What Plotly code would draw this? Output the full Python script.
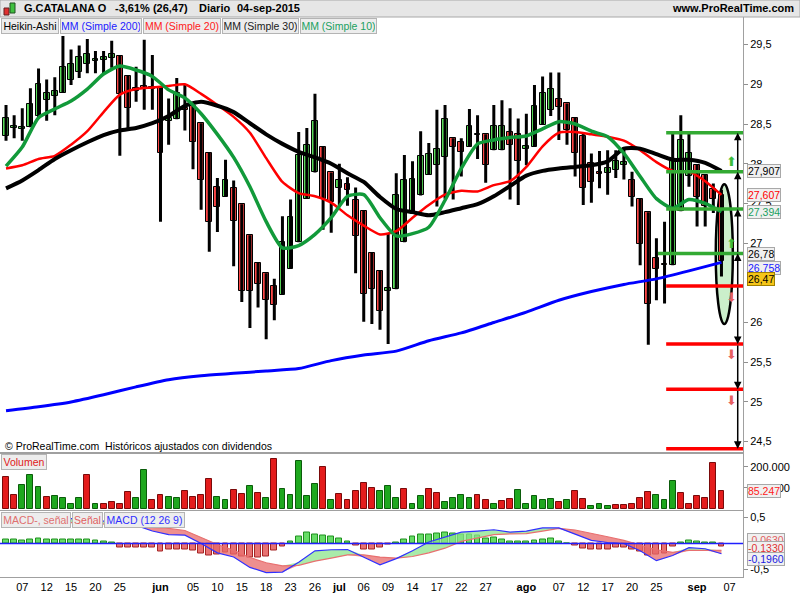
import plotly.graph_objects as go

# ---------------- data ----------------
# one bar per trading day, 5-may-2015 (index 0) .. 4-sep-2015 (index 88)
ha_open = [28.35, 28.45, 28.44, 28.46, 28.60, 28.80, 28.85, 28.89, 29.05, 29.15,
           29.26, 29.30, 29.31, 29.33, 29.36, 29.11, 28.95, 28.98, 28.97, 28.97,
           28.54, 28.56, 28.70, 28.73, 28.51, 28.14, 27.71, 27.58, 27.69, 27.49,
           27.10, 26.75, 26.62, 26.46, 26.35, 26.68, 27.01, 27.56, 27.89, 28.21,
           27.89, 27.70, 27.75, 27.54, 27.41, 26.88, 26.65, 26.40, 26.42, 27.01,
           27.39, 27.60, 27.86, 27.98, 28.08, 28.32, 28.27, 28.21, 28.36, 28.37,
           28.17, 28.17, 28.40, 28.38, 28.18, 28.21, 28.49, 28.68, 28.81, 28.76,
           28.58, 28.35, 28.01, 27.90, 27.88, 27.92, 27.98, 27.79, 27.56, 27.39,
           26.81, 26.74, 26.72, 27.40, 27.85, 27.99, 27.86, 27.68, 27.61]
ha_high = [28.74, 28.61, 28.70, 28.95, 29.20, 29.06, 29.09, 29.61, 29.44, 29.49,
           29.57, 29.42, 29.42, 29.55, 29.36, 29.11, 29.22, 29.56, 29.37, 28.97,
           28.82, 29.08, 28.99, 28.73, 28.51, 28.14, 27.82, 28.05, 27.79, 27.49,
           27.10, 26.75, 26.62, 26.55, 27.34, 27.55, 28.40, 28.45, 28.88, 28.21,
           27.89, 28.00, 27.83, 27.70, 27.41, 26.88, 26.65, 27.12, 27.88, 28.11,
           28.03, 28.41, 28.26, 28.68, 28.74, 28.32, 28.32, 28.69, 28.61, 28.37,
           28.74, 28.80, 28.70, 28.57, 28.63, 28.99, 29.10, 29.15, 29.15, 28.76,
           28.58, 28.39, 28.13, 28.16, 28.17, 28.17, 28.21, 27.90, 27.56, 27.39,
           27.06, 27.27, 28.38, 28.61, 28.40, 27.99, 27.86, 27.75, 27.67]
ha_low = [28.29, 28.32, 28.29, 28.46, 28.58, 28.54, 28.61, 28.89, 28.99, 29.08,
          29.14, 29.14, 29.14, 29.21, 28.10, 28.44, 28.78, 28.68, 28.68, 27.27,
          28.24, 28.56, 28.42, 27.93, 27.42, 26.89, 27.14, 27.58, 26.71, 26.26,
          25.93, 26.19, 25.79, 26.03, 26.35, 26.68, 27.01, 27.56, 27.89, 27.17,
          27.13, 27.47, 27.47, 26.62, 26.01, 25.98, 25.91, 25.73, 26.42, 27.01,
          27.39, 27.60, 27.86, 27.46, 27.56, 27.55, 27.84, 28.21, 28.06, 27.76,
          28.17, 28.17, 27.55, 27.48, 27.98, 28.21, 28.49, 28.60, 28.30, 28.24,
          27.84, 27.48, 27.51, 27.69, 27.61, 27.82, 27.80, 27.46, 26.72, 25.72,
          26.28, 26.24, 26.72, 27.40, 27.71, 27.21, 27.21, 27.38, 26.58]
ha_close = [28.58, 28.47, 28.46, 28.75, 29.00, 28.89, 28.92, 29.22, 29.25, 29.35,
            29.38, 29.32, 29.35, 29.38, 28.88, 28.70, 28.91, 28.95, 28.94, 28.13,
            28.58, 28.89, 28.68, 28.28, 27.79, 27.27, 27.45, 27.79, 27.28, 26.40,
            26.40, 26.48, 26.29, 26.22, 27.01, 27.33, 28.11, 28.23, 28.54, 27.56,
            27.52, 27.79, 27.67, 27.09, 26.36, 26.42, 26.14, 26.43, 27.61, 27.79,
            27.81, 28.10, 28.12, 28.18, 28.56, 28.21, 28.15, 28.48, 28.38, 27.98,
            28.48, 28.47, 28.24, 28.03, 28.22, 28.73, 28.89, 28.94, 28.71, 28.42,
            28.14, 27.69, 27.77, 27.87, 27.94, 28.03, 28.02, 27.58, 26.99, 26.23,
            26.67, 26.72, 28.03, 28.30, 28.13, 27.58, 27.47, 27.56, 26.78]
last_close = 26.47

volume = [152000, 65000, 112000, 160000, 103000, 55000, 60000, 50000, 26000, 50000,
          160000, 22000, 22000, 31000, 26000, 79000, 50000, 184000, 45000, 65000,
          55000, 50000, 84000, 55000, 65000, 141000, 55000, 41000, 89000, 69000,
          108000, 74000, 50000, 237000, 93000, 65000, 227000, 60000, 117000, 199000,
          45000, 69000, 41000, 84000, 122000, 98000, 84000, 108000, 50000, 97000,
          22000, 60000, 93000, 78000, 31000, 54000, 65000, 54000, 65000, 44000,
          26000, 36000, 49000, 92000, 22000, 60000, 41000, 49000, 31000, 41000,
          84000, 49000, 15000, 22000, 12000, 17000, 17000, 26000, 50000, 79000,
          65000, 44000, 132000, 76000, 22000, 60000, 50000, 216000, 85247]
volume_up = [0, 0, 1, 1, 1, 0, 1, 1, 1, 1,
             0, 1, 0, 0, 0, 0, 1, 1, 0, 0,
             1, 1, 0, 0, 0, 0, 1, 1, 0, 0,
             1, 0, 1, 0, 1, 1, 1, 1, 1, 0,
             1, 0, 0, 0, 0, 0, 1, 1, 1, 0,
             1, 1, 0, 0, 1, 1, 1, 1, 0, 0,
             1, 0, 0, 1, 1, 1, 1, 1, 0, 1,
             0, 0, 1, 1, 1, 0, 0, 0, 0, 0,
             1, 1, 1, 0, 0, 0, 0, 0, 0]

# moving averages, sampled every 2 bars (MA200 every 4)
line_idx = list(range(0, 89, 2))
ma200_idx = list(range(0, 89, 4))
ma200 = [24.89, 24.94, 25.00, 25.09, 25.19, 25.28, 25.33, 25.36, 25.39, 25.42,
         25.52, 25.59, 25.64, 25.77, 25.87, 26.00, 26.13, 26.28, 26.39, 26.48,
         26.55, 26.65, 26.758]
ma20 = [27.94, 27.98, 28.06, 28.10, 28.24, 28.41, 28.65, 28.87, 28.94, 28.96,
        28.98, 29.00, 28.88, 28.74, 28.59, 28.39, 28.07, 27.77, 27.63, 27.59,
        27.51, 27.35, 27.22, 27.11, 27.15, 27.32, 27.48, 27.61, 27.66, 27.65,
        27.73, 27.78, 27.96, 28.22, 28.39, 28.40, 28.37, 28.34, 28.29, 28.17,
        28.02, 27.91, 27.90, 27.78, 27.607]
ma30 = [27.69, 27.79, 27.92, 28.06, 28.17, 28.27, 28.36, 28.42, 28.45, 28.51,
        28.60, 28.73, 28.78, 28.73, 28.65, 28.51, 28.37, 28.25, 28.15, 28.08,
        28.00, 27.88, 27.77, 27.58, 27.43, 27.39, 27.35, 27.39, 27.44, 27.49,
        27.59, 27.72, 27.85, 27.91, 27.94, 27.96, 27.98, 28.03, 28.19, 28.19,
        28.12, 28.05, 28.05, 28.01, 27.907]
ma10 = [27.97, 28.21, 28.58, 28.69, 28.79, 28.94, 29.13, 29.23, 29.18, 29.10,
        28.93, 28.83, 28.63, 28.37, 28.08, 27.71, 27.27, 26.94, 26.97, 27.11,
        27.32, 27.59, 27.61, 27.32, 27.09, 27.12, 27.20, 27.54, 27.94, 28.25,
        28.30, 28.33, 28.35, 28.44, 28.53, 28.50, 28.41, 28.34, 28.13, 27.84,
        27.56, 27.44, 27.55, 27.50, 27.394]

# MACD (12 26 9)
macd = [0.50, 0.50, 0.50, 0.49, 0.48, 0.46, 0.43, 0.39, 0.35, 0.24,
        0.17, 0.16, 0.0, -0.18, -0.26, -0.46, -0.56, -0.55, -0.36, -0.14,
        -0.12, -0.115, -0.26, -0.41, -0.29, -0.14, 0.03, 0.13, 0.22, 0.24,
        0.265, 0.22, 0.24, 0.30, 0.30, 0.18, 0.06, 0.02, 0.0, -0.14,
        -0.33, -0.23, -0.08, -0.10, -0.196]
signal = [0.42, 0.42, 0.42, 0.41, 0.40, 0.39, 0.38, 0.37, 0.35, 0.31,
          0.29, 0.25, 0.12, -0.02, -0.13, -0.27, -0.37, -0.43, -0.42, -0.34,
          -0.28, -0.22, -0.22, -0.26, -0.28, -0.25, -0.18, -0.09, 0.04, 0.11,
          0.17, 0.185, 0.19, 0.24, 0.29, 0.26, 0.20, 0.13, 0.06, -0.03,
          -0.12, -0.17, -0.13, -0.13, -0.133]
macd_hist = [0.083, 0.083, 0.064, 0.083, 0.10, 0.083, 0.083, 0.083, 0.083, 0.083,
             0.07, 0.064, 0.045, 0.026, -0.077, -0.077, -0.077, -0.077, -0.077, -0.147,
             -0.115, -0.115, -0.115, -0.128, -0.19, -0.23, -0.21, -0.17, -0.22, -0.256,
             -0.27, -0.27, -0.256, -0.128, -0.064, 0.045, 0.135, 0.218, 0.173, 0.154,
             0.135, 0.09, 0.045, -0.038, -0.115, -0.115, -0.077, -0.01, 0.026, 0.083,
             0.135, 0.173, 0.173, 0.19, 0.21, 0.19, 0.18, 0.173, 0.154, 0.096,
             0.115, 0.083, 0.045, 0.032, 0.045, 0.064, 0.083, 0.10, 0.045, 0.003,
             -0.038, -0.10, -0.115, -0.115, -0.115, -0.083, -0.083, -0.115, -0.16, -0.224,
             -0.205, -0.19, -0.064, 0.02, 0.064, 0.045, 0.026, 0.026, -0.063]

# hand-drawn targets
green_levels = [28.39, 27.90, 27.43, 26.87]
red_levels = [26.46, 25.73, 25.16, 24.41]

tick_idx = [2, 5, 8, 11, 14, 19, 23, 26, 29, 32, 35, 38, 41, 44, 47, 50, 53, 56,
            59, 64, 68, 71, 74, 77, 80, 85, 89]
tick_lbl = ["07", "12", "15", "20", "25", "<b>jun</b>", "05", "10", "15", "18", "23",
            "26", "<b>jul</b>", "06", "09", "14", "17", "22", "27", "<b>ago</b>", "07",
            "12", "17", "20", "25", "<b>sep</b>", "07"]
price_ticks = [24.5, 25, 25.5, 26, 27, 27.5, 28, 28.5, 29, 29.5]

# ---------------- helpers ----------------
FONT = "Liberation Sans, Arial, sans-serif"
PLOT_W = 743.0


def px(xp):
    return xp / PLOT_W


def py(yp):
    return 1 - yp / 600.0


def fmt(v, nd):
    return f"{v:.{nd}f}".replace(".", ",")


idx = list(range(len(ha_open)))
fig = go.Figure()

# ---- price panel: wicks, bodies, moving averages ----
wx, wy = [], []
for i, h, l in zip(idx, ha_high, ha_low):
    wx += [i, i, None]
    wy += [l, h, None]
fig.add_trace(go.Scatter(x=wx, y=wy, mode="lines", line=dict(color="black", width=3),
                         hoverinfo="skip", xaxis="x", yaxis="y"))

body_base = [min(o, c) for o, c in zip(ha_open, ha_close)]
body_h = [max(abs(c - o), 0.015) for o, c in zip(ha_open, ha_close)]
body_col = ["#5ade5a" if c >= o else "#ff4747" for o, c in zip(ha_open, ha_close)]
fig.add_trace(go.Bar(x=idx, y=body_h, base=body_base, width=0.72,
                     marker=dict(color=body_col, line=dict(color="black", width=1)),
                     xaxis="x", yaxis="y"))

fig.add_trace(go.Scatter(x=ma200_idx, y=ma200, mode="lines", line=dict(color="#0000ff", width=3, shape="spline", smoothing=0.6),
                         xaxis="x", yaxis="y"))
fig.add_trace(go.Scatter(x=line_idx, y=ma20, mode="lines", line=dict(color="#ff0000", width=2.5, shape="spline", smoothing=0.6),
                         xaxis="x", yaxis="y"))
fig.add_trace(go.Scatter(x=line_idx, y=ma30, mode="lines", line=dict(color="#000000", width=4, shape="spline", smoothing=0.6),
                         xaxis="x", yaxis="y"))
fig.add_trace(go.Scatter(x=line_idx, y=ma10, mode="lines", line=dict(color="#129a3a", width=3.5, shape="spline", smoothing=0.6),
                         xaxis="x", yaxis="y"))

# ---- volume panel ----
fig.add_trace(go.Bar(x=idx, y=volume, width=0.72,
                     marker=dict(color=["#1ea81e" if u else "#e41c1c" for u in volume_up],
                                 line=dict(color=["#0b5c0b" if u else "#7a0a0a" for u in volume_up], width=1)),
                     xaxis="x2", yaxis="y2"))

# ---- MACD panel ----
fig.add_trace(go.Bar(x=idx, y=macd_hist, width=0.72,
                     marker=dict(color=["#66dd66" if v >= 0 else "#e87272" for v in macd_hist],
                                 line=dict(color=["#1f8f1f" if v >= 0 else "#a52525" for v in macd_hist], width=1)),
                     xaxis="x3", yaxis="y3"))
hi = [max(m, s) for m, s in zip(macd, signal)]
lo = [min(m, s) for m, s in zip(macd, signal)]
for top, col in ((hi, "rgba(140,228,140,0.75)"), (lo, "rgba(232,105,105,0.75)")):
    fig.add_trace(go.Scatter(x=line_idx, y=signal, mode="lines", line=dict(width=0),
                             hoverinfo="skip", xaxis="x3", yaxis="y3"))
    fig.add_trace(go.Scatter(x=line_idx, y=top, mode="lines", line=dict(width=0), fill="tonexty",
                             fillcolor=col, hoverinfo="skip", xaxis="x3", yaxis="y3"))
fig.add_trace(go.Scatter(x=line_idx, y=signal, mode="lines", line=dict(color="#e87070", width=1.2),
                         xaxis="x3", yaxis="y3"))
fig.add_trace(go.Scatter(x=line_idx, y=macd, mode="lines", line=dict(color="#3030ff", width=1.2),
                         xaxis="x3", yaxis="y3"))

# ---------------- shapes ----------------
shapes = []
# header band
shapes.append(dict(type="rect", xref="paper", yref="paper", x0=0, x1=800 / PLOT_W, y0=py(17), y1=1,
                   fillcolor="#e6e6e6", line=dict(color="#a8a8a8", width=1), layer="above"))
# tiny candle icon
shapes.append(dict(type="rect", xref="paper", yref="paper", x0=px(4), x1=px(9), y0=py(15), y1=py(8),
                   fillcolor="#e03030", line=dict(color="#602020", width=1)))
shapes.append(dict(type="rect", xref="paper", yref="paper", x0=px(10), x1=px(15), y0=py(13), y1=py(3),
                   fillcolor="#40c040", line=dict(color="#205020", width=1)))
# MACD zero line
shapes.append(dict(type="line", xref="x3 domain", yref="y3", x0=0, x1=1, y0=0, y1=0,
                   line=dict(color="#2020ff", width=1.5)))
# ellipse around the last candle
shapes.append(dict(type="circle", xref="x", yref="y", x0=87.3, x1=89.4, y0=25.98, y1=27.74,
                   fillcolor="rgba(190,235,190,0.8)", line=dict(color="black", width=2.5), layer="below"))
# target lines
for k, lv in enumerate(green_levels):
    shapes.append(dict(type="line", xref="x", yref="y", x0=80.2 if k == 3 else 81.2, x1=90.65, y0=lv, y1=lv,
                       line=dict(color="#33aa33", width=3.5)))
for lv in red_levels:
    shapes.append(dict(type="line", xref="x", yref="y", x0=81.2, x1=90.65, y0=lv, y1=lv,
                       line=dict(color="#ff0000", width=3.5)))

# ---------------- annotations ----------------
ann = []


def label(text, x, y, size=11, color="black", bold=False, xanchor="left", **kw):
    t = f"<b>{text}</b>" if bold else text
    d = dict(text=t, x=x, y=y, xref="paper", yref="paper", xanchor=xanchor, yanchor="middle",
             showarrow=False, font=dict(family=FONT, size=size, color=color))
    d.update(kw)
    ann.append(d)


label("G.CATALANA O", px(22), py(8.5), bold=True)
label("-3,61% (26,47)", px(113), py(8.5), bold=True)
label("Diario", px(197), py(8.5), bold=True)
label("04-sep-2015", px(235), py(8.5), bold=True)
label("www.ProRealTime.com", px(796), py(8.5), bold=True, xanchor="right")

box = dict(bgcolor="#ededed", bordercolor="#b4b4b4", borderwidth=1, borderpad=1)
for text, x0, w, col in (("Heikin-Ashi", 1, 58, "black"), ("MM (Simple 200)", 60, 82, "#2020ff"),
                         ("MM (Simple 20)", 143, 78, "#ff2020"), ("MM (Simple 30)", 222, 77, "#202020"),
                         ("MM (Simple 10)", 300, 77, "#20a060")):
    label(text, px(x0), py(26), size=10.5, color=col, width=w - 4, align="center", **box)
label("© ProRealTime.com  Históricos ajustados con dividendos", px(3), py(446), size=10.5)
label("Volumen", px(1), py(462), size=10.5, color="#e02020", width=42, align="center", **box)
for text, x0, w, col in (("MACD-, señal", 1, 70, "#e07070"), ("Señal", 72, 31, "#e06060"),
                         ("MACD (12 26 9)", 104, 81, "#3030ff")):
    label(text, px(x0), py(519.5), size=10.5, color=col, width=w - 4, align="center", **box)

# value boxes on the right axis
vbox = dict(bgcolor="#f0f0f0", bordercolor="#a8a8a8", borderwidth=1, borderpad=0)
VF = 10.5
for val, yref, col, shift, nd in ((ma30[-1], "y", "black", 0, 3), (ma20[-1], "y", "#ff0000", 0, 3),
                                  (ma10[-1], "y", "#20a060", 0, 3), (ma200[-1], "y", "#2020ff", -6, 3),
                                  (ha_close[-1], "y", "black", 7, 2)):
    ann.append(dict(text=fmt(val, nd), x=px(747), y=val, xref="paper", yref=yref, xanchor="left",
                    yanchor="middle", yshift=shift, showarrow=False,
                    font=dict(family=FONT, size=VF, color=col), **vbox))
ann.append(dict(text=fmt(last_close, 2), x=px(747), y=last_close, xref="paper", yref="y", xanchor="left",
                yanchor="middle", yshift=6, showarrow=False, font=dict(family=FONT, size=VF, color="black"),
                bgcolor="#f5c518", bordercolor="#a08000", borderwidth=1, borderpad=0))
ann.append(dict(text=f"{volume[-1]:,}".replace(",", "."), x=px(747), y=volume[-1], xref="paper", yref="y2",
                xanchor="left", yanchor="middle", showarrow=False,
                font=dict(family=FONT, size=VF, color="#ff2020"), **vbox))
for val, col, shift in ((macd_hist[-1], "#e06060", 7), (signal[-1], "#e03030", 2), (macd[-1], "#2020e0", -5)):
    ann.append(dict(text=fmt(val, 4), x=px(747), y=val, xref="paper", yref="y3", xanchor="left",
                    yanchor="middle", yshift=shift, showarrow=False,
                    font=dict(family=FONT, size=VF, color=col), **vbox))

# arrows along the target ladder
up_chain = [red_levels[0]] + green_levels[::-1]
for a, b in zip(up_chain[:-1], up_chain[1:]):
    ann.append(dict(x=90.0, y=b, ax=90.0, ay=a, xref="x", yref="y", axref="x", ayref="y", text="",
                    showarrow=True, arrowhead=2, arrowsize=1, arrowwidth=1.5, arrowcolor="black"))
for a, b in zip(red_levels[:-1], red_levels[1:]):
    ann.append(dict(x=90.0, y=b, ax=90.0, ay=a, xref="x", yref="y", axref="x", ayref="y", text="",
                    showarrow=True, arrowhead=2, arrowsize=1, arrowwidth=1.5, arrowcolor="black"))
for lv in (green_levels[1], green_levels[3]):
    ann.append(dict(text="⬆", x=89.2, y=lv, xref="x", yref="y", yshift=10, showarrow=False,
                    font=dict(family="DejaVu Sans", size=13, color="#3cbc3c")))
for lv in red_levels[:3]:
    ann.append(dict(text="⬇", x=89.2, y=lv, xref="x", yref="y", yshift=-11, showarrow=False,
                    font=dict(family="DejaVu Sans", size=13, color="#e86060")))

# ---------------- layout ----------------
XR = [-0.74, 90.65]
frame = dict(showline=True, mirror=True, linecolor="#a0a0a0", linewidth=1, showgrid=False, zeroline=False)
yax = dict(side="right", ticks="outside", ticklen=4, tickcolor="#909090",
           tickfont=dict(family=FONT, size=11, color="black"), **frame)

fig.update_layout(
    width=800, height=600,
    margin=dict(l=0, r=57, t=0, b=0),
    paper_bgcolor="white", plot_bgcolor="white",
    showlegend=False, barmode="overlay", bargap=0,
    xaxis=dict(domain=[0, 1], range=XR, anchor="y", showticklabels=False, ticks="", **frame),
    xaxis2=dict(domain=[0, 1], range=XR, anchor="y2", matches="x", showticklabels=False, ticks="", **frame),
    xaxis3=dict(domain=[0, 1], range=XR, anchor="y3", matches="x", tickmode="array", tickvals=tick_idx,
                ticktext=tick_lbl, ticks="", tickfont=dict(family=FONT, size=11, color="black"), **frame),
    yaxis=dict(domain=[py(452.5), py(17)], range=[24.363, 29.848], anchor="x", tickmode="array",
               tickvals=price_ticks, ticktext=[fmt(t, 1).replace(",0", "") for t in price_ticks], **yax),
    yaxis2=dict(domain=[py(509.5), py(453)], range=[-2400, 265600], anchor="x2", tickmode="array",
                tickvals=[100000, 200000], ticktext=["100.000", "200.000"], **yax),
    yaxis3=dict(domain=[py(577), py(510.5)], range=[-0.644, 0.635], anchor="x3", tickmode="array",
                tickvals=[-0.5, 0.5], ticktext=["-0,5", "0,5"], **yax),
    shapes=shapes,
    annotations=ann,
    font=dict(family=FONT),
)

# the page body has a default 8px margin; drop it so the figure sits at the window's corner
fig.write_html("out.html", config={"displayModeBar": False},
               post_script="document.body.style.margin='0';")
